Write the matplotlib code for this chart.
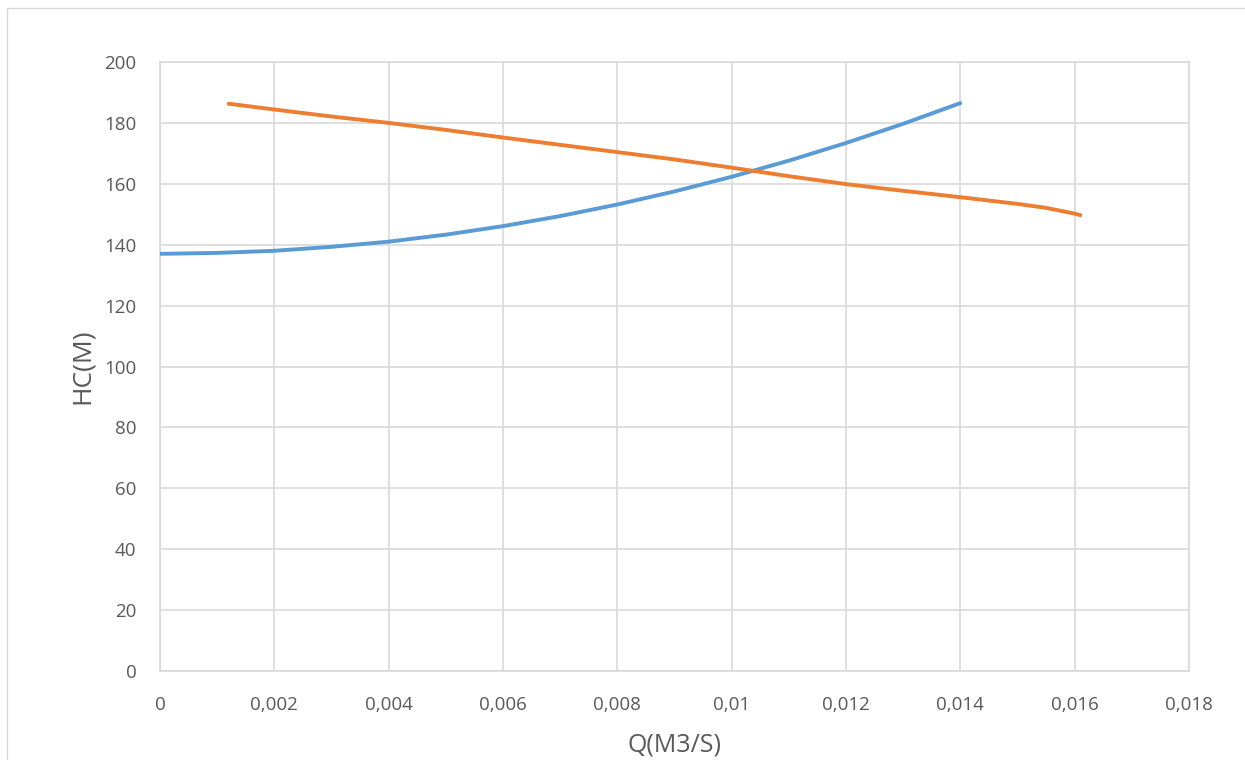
import numpy as np
import matplotlib
matplotlib.use("Agg")
import matplotlib.pyplot as plt
from matplotlib.patches import Rectangle
from matplotlib.ticker import FuncFormatter

# system curve (blue) and pump curve (orange)
q_sys = [0.0, 0.001, 0.002, 0.003, 0.004, 0.005, 0.006, 0.007, 0.008,
         0.009, 0.010, 0.011, 0.012, 0.013, 0.014]
h_sys = [137.0, 137.3, 138.0, 139.3, 141.0, 143.3, 146.1, 149.4, 153.2,
         157.5, 162.3, 167.6, 173.4, 179.7, 186.5]

q_pump = [0.0012, 0.002, 0.003, 0.004, 0.005, 0.006, 0.007, 0.008, 0.009,
          0.010, 0.011, 0.012, 0.013, 0.014, 0.015, 0.0155, 0.016, 0.0161]
h_pump = [186.3, 184.4, 182.1, 180.0, 177.7, 175.2, 172.8, 170.4, 168.0,
          165.3, 162.5, 159.9, 157.7, 155.6, 153.4, 152.1, 150.2, 149.7]

x_ticks = [0, 0.002, 0.004, 0.006, 0.008, 0.01, 0.012, 0.014, 0.016, 0.018]
y_ticks = [0, 20, 40, 60, 80, 100, 120, 140, 160, 180, 200]

plt.rcParams['font.family'] = ['Open Sans', 'DejaVu Sans']
txt = '#595959'
grid = '#d9d9d9'

fig = plt.figure(figsize=(12.45, 7.6), dpi=100)
ax = fig.add_axes([160/1245., 1 - 671/760., (1189-160)/1245., (671-62)/760.])

# outer chart frame (runs off the right and bottom edges)
fig.patches.append(Rectangle((7/1245., -0.01), 1.0, 1 - 8/760. + 0.01,
                             transform=fig.transFigure, fill=False,
                             edgecolor=grid, linewidth=1.0))

ax.plot(q_sys, h_sys, color='#5b9bd5', lw=2.8, solid_capstyle='round', zorder=3)
ax.plot(q_pump, h_pump, color='#ed7d31', lw=2.8, solid_capstyle='round', zorder=3)

ax.set_xlim(0, 0.018)
ax.set_ylim(0, 200)
ax.set_xticks(x_ticks)
ax.set_yticks(y_ticks)

def fmt_x(v, pos):
    if abs(v) < 1e-12:
        return '0'
    return ('%.3f' % v).rstrip('0').replace('.', ',')

ax.xaxis.set_major_formatter(FuncFormatter(fmt_x))
ax.grid(True, color=grid, lw=1.2)
ax.set_axisbelow(True)
for s in ax.spines.values():
    s.set_color(grid)
    s.set_linewidth(1.2)

ax.tick_params(axis='both', length=0, labelsize=13.5, colors=txt)
ax.tick_params(axis='x', pad=18)
ax.tick_params(axis='y', pad=17)

ax.set_xlabel('Q(M3/S)', fontsize=18, color=txt, labelpad=13)
ax.set_ylabel('HC(M)', fontsize=19, color=txt, labelpad=7)

fig.savefig('out.png', dpi=100)
